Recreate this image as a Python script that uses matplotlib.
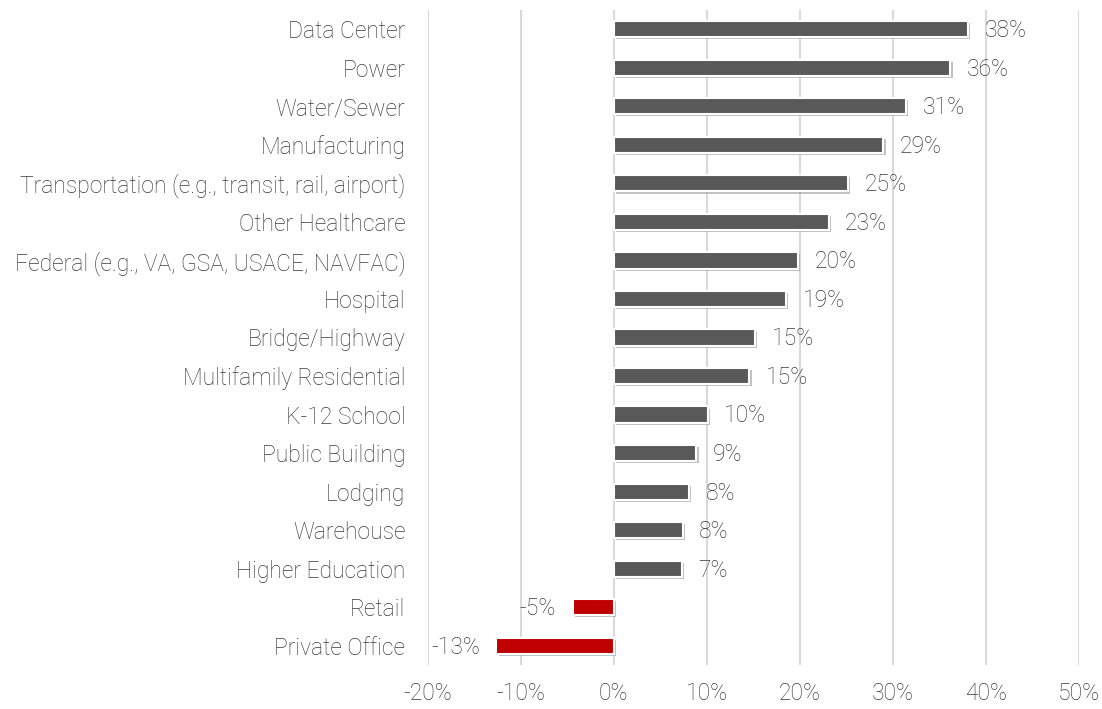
import numpy as np
import matplotlib.pyplot as plt
from matplotlib import patheffects as pe

categories = ["Data Center", "Power", "Water/Sewer", "Manufacturing",
              "Transportation (e.g., transit, rail, airport)", "Other Healthcare",
              "Federal (e.g., VA, GSA, USACE, NAVFAC)", "Hospital", "Bridge/Highway",
              "Multifamily Residential", "K-12 School", "Public Building", "Lodging",
              "Warehouse", "Higher Education", "Retail", "Private Office"]
values = [38.1, 36.2, 31.4, 29.0, 25.2, 23.1, 19.8, 18.5, 15.2, 14.6,
          10.1, 8.9, 8.1, 7.4, 7.3, -4.4, -12.6]
labels = ["38%", "36%", "31%", "29%", "25%", "23%", "20%", "19%", "15%", "15%",
          "10%", "9%", "8%", "8%", "7%", "-5%", "-13%"]
xticks = [-20, -10, 0, 10, 20, 30, 40, 50]

plt.rcParams['font.family'] = ['Roboto', 'DejaVu Sans']
txt = '#3a3a3a'
fs = 16.5

fig = plt.figure(figsize=(11.02, 7.09), dpi=100)
ax = fig.add_axes([0.388, 0.062, 0.591, 0.924])

y = np.arange(len(categories))
colors = ['#595959' if v >= 0 else '#c00000' for v in values]
bars = ax.barh(y, values, height=0.42, color=colors, edgecolor='white', linewidth=1.5, zorder=3)
for b in bars:
    b.set_path_effects([pe.SimplePatchShadow(offset=(1.5, -1.5), shadow_rgbFace='#999999', alpha=0.6),
                        pe.Normal()])

for yi, v, lab in zip(y, values, labels):
    if v >= 0:
        ax.annotate(lab, (v, yi), xytext=(12, -1), textcoords='offset points',
                    ha='left', va='center', fontsize=fs, color=txt, fontweight='light')
    else:
        ax.annotate(lab, (v, yi), xytext=(-12, -1), textcoords='offset points',
                    ha='right', va='center', fontsize=fs, color=txt, fontweight='light')

ax.set_xlim(-20, 50)
ax.set_ylim(len(categories) - 0.5, -0.5)
ax.set_xticks(xticks)
ax.set_xticklabels([f"{t}%" for t in xticks])
ax.set_yticks(y)
ax.set_yticklabels(categories)
ax.tick_params(axis='both', length=0, labelsize=fs, labelcolor=txt)
ax.tick_params(axis='x', pad=12)
ax.tick_params(axis='y', pad=16)
for t in ax.get_xticklabels() + ax.get_yticklabels():
    t.set_fontweight('light')
ax.grid(axis='x', color='#d9d9d9', linewidth=1.5, zorder=0)
ax.set_axisbelow(True)
for s in ax.spines.values():
    s.set_visible(False)

fig.savefig('out.png', dpi=100, facecolor='white')
